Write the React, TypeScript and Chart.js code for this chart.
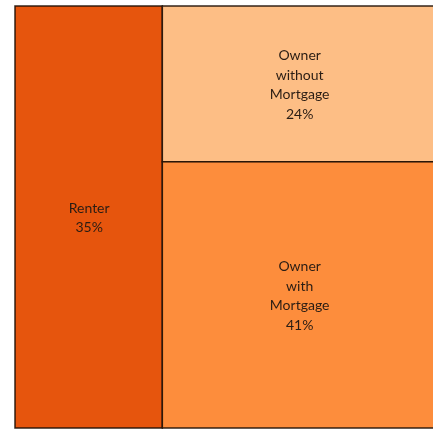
import React, { useEffect, useRef } from "react";
import { Chart, registerables } from "chart.js";

Chart.register(...registerables);

const categories = ["Renter", "Owner without Mortgage", "Owner with Mortgage"];
const shares = [35, 24, 41];
const colors = ["#e6550d", "#fdbe85", "#fd8d3c"];

type Rect = { x0: number; x1: number; y0: number; y1: number; i: number };

function layout(): Rect[] {
  const total = shares.reduce((a, b) => a + b, 0);
  const rects: Rect[] = [];
  const firstW = (shares[0] / total) * 100;
  rects.push({ x0: 0, x1: firstW, y0: 0, y1: 100, i: 0 });
  const rest = total - shares[0];
  let y = 0;
  for (let i = 1; i < shares.length; i++) {
    const h = (shares[i] / rest) * 100;
    rects.push({ x0: firstW, x1: 100, y0: y, y1: y + h, i });
    y += h;
  }
  return rects;
}

const treemapPlugin = {
  id: "treemapRects",
  beforeDatasetsDraw(chart: any) {
    const { ctx, scales, chartArea } = chart;
    const xs = scales.x;
    const ys = scales.y;
    const rects = layout();
    ctx.save();
    ctx.beginPath();
    ctx.rect(chartArea.left - 2, chartArea.top - 2, chartArea.right - chartArea.left + 4, chartArea.bottom - chartArea.top + 4);
    ctx.clip();
    for (const r of rects) {
      const px0 = xs.getPixelForValue(r.x0);
      const px1 = xs.getPixelForValue(r.x1);
      const py0 = ys.getPixelForValue(r.y0);
      const py1 = ys.getPixelForValue(r.y1);
      ctx.fillStyle = colors[r.i];
      ctx.fillRect(px0, py0, px1 - px0, py1 - py0);
      ctx.lineWidth = 1.5;
      ctx.strokeStyle = "rgba(30,15,5,0.9)";
      ctx.strokeRect(px0, py0, px1 - px0, py1 - py0);
      const lines = [...categories[r.i].split(" "), shares[r.i] + "%"];
      ctx.fillStyle = "#2a1d14";
      ctx.font = "14px Lato";
      ctx.textAlign = "center";
      ctx.textBaseline = "middle";
      const lh = 19.5;
      const cx = (px0 + px1) / 2 + 0.5;
      const cy = (py0 + py1) / 2 + 1;
      const start = cy - ((lines.length - 1) * lh) / 2;
      lines.forEach((t, k) => ctx.fillText(t, cx, start + k * lh));
    }
    ctx.restore();
  },
};

export default function App() {
  const ref = useRef<HTMLCanvasElement>(null);
  useEffect(() => {
    document.body.style.margin = "0";
    const chart = new Chart(ref.current!, {
      type: "scatter",
      data: { datasets: [{ data: [], pointRadius: 0 }] },
      options: {
        animation: false,
        responsive: false,
        layout: { padding: { left: 15, top: 6, right: 0, bottom: 2 } },
        plugins: { legend: { display: false }, tooltip: { enabled: false } },
        scales: {
          x: { type: "linear", min: 0, max: 99.3, display: false },
          y: { type: "linear", min: 0, max: 100, reverse: true, display: false },
        },
      },
      plugins: [treemapPlugin],
    });
    return () => chart.destroy();
  }, []);
  return <canvas ref={ref} width={433} height={430} style={{ display: "block" }} />;
}
